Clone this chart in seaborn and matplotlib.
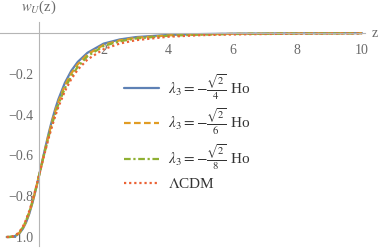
import matplotlib
matplotlib.use("Agg")
import matplotlib.pyplot as plt
import seaborn as sns
import numpy as np

# redshift samples
z = [-1.0, -0.9, -0.8, -0.7, -0.6, -0.5, -0.4, -0.3, -0.2, -0.1, 0.0, 0.1, 0.2, 0.3,
     0.4, 0.5, 0.6, 0.8, 1.0, 1.2, 1.5, 2.0, 2.5, 3.0, 4.0, 5.0, 6.0, 8.0, 10.0]

w_l4 = [-1.0, -0.9998, -0.9981, -0.9926, -0.9807, -0.9599, -0.9285, -0.8855, -0.8316,
        -0.7687, -0.7, -0.6288, -0.5584, -0.4914, -0.4297, -0.3740, -0.3248, -0.2446,
        -0.1851, -0.1416, -0.0970, -0.0520, -0.0315, -0.0200, -0.0095, -0.0052,
        -0.0032, -0.00140, -0.00072]
w_l6 = [-1.0, -0.9998, -0.9977, -0.9914, -0.9785, -0.9566, -0.9243, -0.8811, -0.8278,
        -0.7665, -0.7, -0.6315, -0.5638, -0.4993, -0.4396, -0.3855, -0.3373, -0.2578,
        -0.1981, -0.1535, -0.1050, -0.0585, -0.0360, -0.0235, -0.0115, -0.0064,
        -0.0040, -0.0018, -0.00095]
w_l8 = [-1.0, -0.9997, -0.9972, -0.9901, -0.9760, -0.9530, -0.9199, -0.8766, -0.8240,
        -0.7642, -0.7, -0.6341, -0.5691, -0.5072, -0.4495, -0.3971, -0.3500, -0.2716,
        -0.2116, -0.1662, -0.1140, -0.0640, -0.0405, -0.0270, -0.0135, -0.0078,
        -0.0049, -0.0023, -0.0012]
w_lcdm = [-1.0, -0.9996, -0.9966, -0.9886, -0.9733, -0.9492, -0.9153, -0.8718, -0.8201,
          -0.7619, -0.7, -0.6368, -0.5745, -0.5150, -0.4596, -0.4088, -0.3629, -0.2858,
          -0.2258, -0.1797, -0.1299, -0.0795, -0.0516, -0.0352, -0.0183, -0.0107,
          -0.0068, -0.0032, -0.00175]

labels = [r"$\lambda_3 = -\frac{\sqrt{2}}{4}$ Ho",
          r"$\lambda_3 = -\frac{\sqrt{2}}{6}$ Ho",
          r"$\lambda_3 = -\frac{\sqrt{2}}{8}$ Ho",
          r"$\Lambda$CDM"]
colors = ["#5E81B5", "#E19C24", "#8FB032", "#EB6235"]
styles = ["-", (0, (3, 1.5)), (0, (3, 1.2, 1, 1.2)), (0, (1, 1.3))]

sns.set_theme(style="white")
plt.rcParams["font.family"] = ["Liberation Serif", "DejaVu Serif"]
plt.rcParams["mathtext.fontset"] = "stix"

fig = plt.figure(figsize=(3.82, 2.5), dpi=100)
ax = fig.add_axes([0, 0, 1, 1])
ax.patch.set_alpha(0)

for w, lab, c, ls in zip([w_l4, w_l6, w_l8, w_lcdm], labels, colors, styles):
    sns.lineplot(x=z, y=w, ax=ax, color=c, linestyle=ls, linewidth=1.6,
                 label=lab, sort=False)

ax.set_xlim(-1.207, 10.619)
ax.set_ylim(-1.0637, 0.1618)

axis_col = "#b5b5b5"
for s in ["top", "right"]:
    ax.spines[s].set_visible(False)
ax.spines["left"].set_position(("data", 0))
ax.spines["bottom"].set_position(("data", 0))
ax.spines["left"].set_bounds(-1.045, 0.055)
ax.spines["bottom"].set_bounds(-1.207, 10.1)
for s in ["left", "bottom"]:
    ax.spines[s].set_color(axis_col)
    ax.spines[s].set_linewidth(0.8)

ax.set_xticks([2, 4, 6, 8, 10])
ax.set_xticks(np.arange(-1, 10.01, 0.5), minor=True)
ax.set_yticks([-1.0, -0.8, -0.6, -0.4, -0.2])
ax.set_yticks(np.arange(-1.0, 0.051, 0.05), minor=True)
ax.set_yticklabels(["\u22121.0", "\u22120.8", "\u22120.6", "\u22120.4", "\u22120.2"])
ax.tick_params(axis="both", which="both", direction="in", color=axis_col,
               labelcolor="#6a6a6a", labelsize=10, width=0.8)
ax.tick_params(axis="both", which="major", length=4, pad=4)
ax.tick_params(axis="both", which="minor", length=2.2)
ax.tick_params(axis="x", which="major", pad=8)

ax.text(10.3, 0.0, "z", color="#6a6a6a", fontsize=10, ha="left", va="center")
ax.text(0.0, 0.125, r"$w_U$(z)", color="#6a6a6a", fontsize=10.5, ha="center", va="center")
ax.set_xlabel("")
ax.set_ylabel("")

leg = ax.legend(loc="upper left", bbox_to_anchor=(124 / 382, 1 - 72 / 250),
                bbox_transform=fig.transFigure, frameon=False, fontsize=11,
                handlelength=2.3, handletextpad=0.55, labelspacing=0.33, borderpad=0,
                borderaxespad=0)
for t in leg.get_texts():
    t.set_color("#333333")

fig.savefig("out.png", dpi=100)
